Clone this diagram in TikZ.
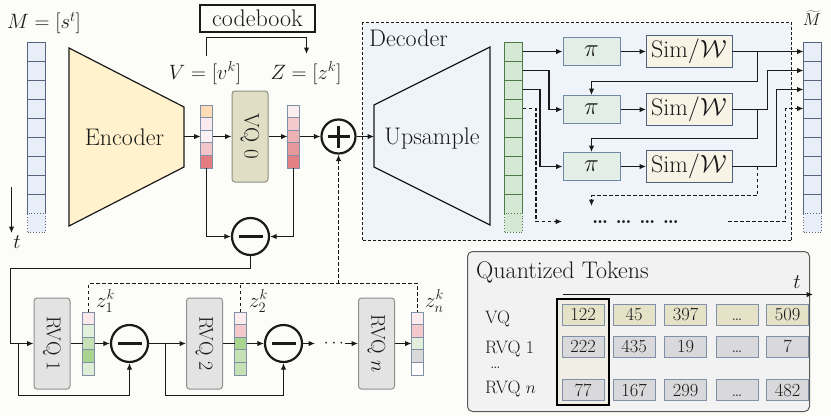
\documentclass[tikz,border=0pt]{standalone}
\usepackage{graphicx}
\usetikzlibrary{arrows.meta,calc}
\definecolor{bgc}{HTML}{FCFCF8}
\definecolor{txt}{HTML}{1A1A1A}
\definecolor{lc}{HTML}{1A1A1A}
\definecolor{mfill}{HTML}{E8EEF8}
\definecolor{mbord}{HTML}{56647E}
\definecolor{gfill}{HTML}{D5E8D4}
\definecolor{gbord}{HTML}{4E7A45}
\definecolor{vbord}{HTML}{8090A8}
\definecolor{encf}{HTML}{FFF2CC}
\definecolor{vqf}{HTML}{E0DFC6}
\definecolor{vqb}{HTML}{8F8F80}
\definecolor{rvqf}{HTML}{E3E3E3}
\definecolor{rvqb}{HTML}{8F8F8F}
\definecolor{decf}{HTML}{EFF4FA}
\definecolor{pif}{HTML}{E3EFE6}
\definecolor{pib}{HTML}{6E88A4}
\definecolor{simf}{HTML}{F7F4E6}
\definecolor{simb}{HTML}{4F6180}
\definecolor{panf}{HTML}{F2F2F2}
\definecolor{panb}{HTML}{595959}
\definecolor{hlf}{HTML}{F1EEE6}
\definecolor{tokvq}{HTML}{E5E2C8}
\definecolor{tokr}{HTML}{D9D9DB}
\definecolor{tokb}{HTML}{8090A8}
\begin{document}
\begin{tikzpicture}[x=1pt,y=-1pt,
  every node/.style={text=txt},
  conn/.style={line width=1.1pt, draw=lc},
  tip/.style={-{Latex[length=6.5pt,width=5.5pt]}},
  arr/.style={conn, tip},
  dl/.style={conn, dash pattern=on 3.5pt off 2.5pt},
  dla/.style={dl, tip},
  bigtext/.style={font=\fontsize{24}{28}\selectfont, inner sep=0pt},
  mathlab/.style={font=\fontsize{20}{24}\selectfont, inner sep=0pt},
  zlabel/.style={font=\fontsize{21}{24}\selectfont, inner sep=0pt},
  mcell/.style={draw=mbord, fill=mfill, line width=0.8pt, minimum width=18pt, minimum height=19pt, inner sep=0pt, outer sep=0pt},
  gcell/.style={mcell, draw=gbord, fill=gfill},
  vcell/.style={draw=vbord, line width=0.8pt, minimum width=12pt, minimum height=12.6pt, inner sep=0pt, outer sep=0pt},
  opcirc/.style={circle, draw=lc, line width=2.2pt, fill=bgc, inner sep=0pt},
  qbox/.style={rounded corners=3pt, line width=1pt, inner sep=0pt, minimum width=36pt, minimum height=91pt},
  pibox/.style={draw=pib, fill=pif, line width=1pt, minimum width=57pt, minimum height=28pt, inner sep=0pt, font=\fontsize{25}{28}\selectfont},
  simbox/.style={draw=simb, fill=simf, line width=1pt, minimum width=86pt, minimum height=32pt, inner sep=0pt, outer sep=0pt, font=\fontsize{24}{28}\selectfont},
  tok/.style={draw=tokb, line width=0.9pt, minimum width=42pt, minimum height=21pt, inner sep=0pt, text height=12pt, text depth=0pt, font=\fontsize{18.5}{21}\selectfont},
  rowlab/.style={font=\fontsize{18}{21}\selectfont, inner sep=0pt, anchor=base west},
]
\fill[bgc] (0,0) rectangle (831,416);
\useasboundingbox (0,0) rectangle (831,416);

% ---------- input column M
\node[mathlab] (mlab) at (44,23) {$M=[s^t]$};
\foreach \i in {1,...,9} \node[mcell] (m\i) at (36.5,{42+19*(\i-0.5)}) {};
\node[mcell, dotted] (m10) at (36.5,{42+19*9.5}) {};
\coordinate (ta) at (11.5,187);
\coordinate (tb) at (11.5,233);
\draw[arr] (ta) -- (tb);
\node[mathlab] (tl) at (17,242) {$t$};

% ---------- encoder
\draw[fill=encf, line width=1.2pt, draw=lc] (69,48) -- (184,107) -- (184,167) -- (69,226) -- cycle;
\node[bigtext] (enc) at (124.5,137) {Encoder};
\coordinate (encout) at (184,136.5);

% ---------- V and Z vectors
\foreach \c [count=\i] in {FDDCB6,FBEBEE,FCF1F2,F2C5C8,E47C80}
  {\definecolor{tmpc}{HTML}{\c}\node[vcell, fill=tmpc] (v\i) at (206.5,{105+12.6*(\i-0.5)}) {};}
\foreach \c [count=\i] in {FCEDEE,F4CACD,EDB0B3,E6989B,E38084}
  {\definecolor{tmpc}{HTML}{\c}\node[vcell, fill=tmpc] (z\i) at (293.5,{105+12.6*(\i-0.5)}) {};}
\node[mathlab] (vlab) at (205,73) {$V=[v^k]$};
\node[mathlab] (zlab) at (306,73) {$Z=[z^k]$};
\node[qbox, draw=vqb, fill=vqf] (vq) at (250,136.5) {\rotatebox{-90}{\fontsize{21}{24}\selectfont VQ 0}};

% codebook
\node[bigtext, draw=lc, line width=1.3pt, minimum width=115pt, minimum height=27pt, fill=bgc] (cb) at (257.5,18.5) {codebook};
\coordinate (vtop) at (206.5,56);
\coordinate (ztop) at (306.5,54);
\draw[arr] (vtop) -- (206.5,37.5) -| (ztop);

% plus and first minus
\node[opcirc, minimum size=34pt] (plus) at (338.5,136.5) {};
\draw[line width=2.2pt, draw=lc] (plus.center) ++(-11,0) -- ++(22,0);
\draw[line width=2.2pt, draw=lc] (plus.center) ++(0,-11) -- ++(0,22);
\node[opcirc, minimum size=37pt] (mi0) at (250.5,236.5) {};
\draw[line width=2.6pt, draw=lc] (mi0.center) ++(-12,0) -- ++(24,0);

\draw[arr] (encout) -- (v3.west);
\draw[arr] (v3.east) -- (vq.west);
\draw[arr] (vq.east) -- (z3.west);
\draw[arr] (z3.east) -- (plus.west);
\draw[arr] (v5.south) |- (mi0.west);
\draw[arr] (z5.south) |- (mi0.east);

% ---------- residual stages
\node[qbox, draw=rvqb, fill=rvqf] (rvq1) at (52,343.5) {\rotatebox{-90}{\fontsize{20}{24}\selectfont RVQ 1}};
\node[qbox, draw=rvqb, fill=rvqf] (rvq2) at (204.5,343.5) {\rotatebox{-90}{\fontsize{20}{24}\selectfont RVQ 2}};
\node[qbox, draw=rvqb, fill=rvqf] (rvqn) at (376.5,343.5) {\rotatebox{-90}{\fontsize{20}{24}\selectfont RVQ $n$}};
\foreach \c [count=\i] in {FBE9EA,E2EFDA,C6E2B4,A8D48F,DEEDD5}
  {\definecolor{tmpc}{HTML}{\c}\node[vcell, fill=tmpc] (za\i) at (88.5,{312+12.6*(\i-0.5)}) {};}
\foreach \c [count=\i] in {FCECED,F4C9CB,A8D48F,C6E2B4,C6E2B4}
  {\definecolor{tmpc}{HTML}{\c}\node[vcell, fill=tmpc] (zb\i) at (240.5,{312+12.6*(\i-0.5)}) {};}
\foreach \c [count=\i] in {FCECED,F4C9CB,E2EFDA,D9D9D9,FFFFFF}
  {\definecolor{tmpc}{HTML}{\c}\node[vcell, fill=tmpc] (zn\i) at (417.5,{312+12.6*(\i-0.5)}) {};}
\node[zlabel, anchor=west] (zla) at (96,301) {$z_1^k$};
\node[zlabel, anchor=west] (zlb) at (249,301) {$z_2^k$};
\node[zlabel, anchor=west] (zlc) at (425,301) {$z_n^k$};
\node[opcirc, minimum size=37pt] (mi1) at (129.5,343.5) {};
\draw[line width=2.6pt, draw=lc] (mi1.center) ++(-12,0) -- ++(24,0);
\node[opcirc, minimum size=37pt] (mi2) at (283.5,343.5) {};
\draw[line width=2.6pt, draw=lc] (mi2.center) ++(-12,0) -- ++(24,0);
\node[font=\fontsize{17}{20}\selectfont, inner sep=1pt] (sdots) at (334,343.5) {$\cdots$};
\coordinate (d2) at (315,343.5);

\draw[arr] (mi0.south) |- (10.5,268.5) |- (rvq1.west);
\draw[arr] (18.5,343.5) -- (18.5,395.5) -| (mi1.south);
\draw[conn] (rvq1.east) -- (za3.west);
\draw[arr] (za3.east) -- (mi1.west);
\draw[arr] (mi1.east) -- (rvq2.west);
\draw[arr] (165.5,343.5) -- (165.5,395.5) -| (mi2.south);
\draw[conn] (rvq2.east) -- (zb3.west);
\draw[arr] (zb3.east) -- (mi2.west);
\draw[arr] (mi2.east) -- (d2);
\draw[arr] (sdots.east) -- (rvqn.west);
\draw[arr] (rvqn.east) -- (zn3.west);

\draw[dl] (za1.north) -- ++(0,-28.5) -| (zn1.north);
\draw[dl] (zb1.north) -- ++(0,-28.5);
\coordinate (dj) at (338.5,283.5);
\draw[dla] (dj) -- (plus.south);

% ---------- decoder
\node[draw=lc, line width=1pt, dash pattern=on 3pt off 2pt, fill=decf, minimum width=429pt, minimum height=218pt, anchor=north west, inner sep=0pt, outer sep=0pt] (dec) at (362.5,22.5) {};
\node[bigtext, anchor=west] (declab) at (369,38) {Decoder};
\draw[fill=decf, line width=1.2pt, draw=lc] (374,105) -- (490,47) -- (490,225) -- (374,167) -- cycle;
\node[bigtext] (ups) at (432,139) {Upsample};
\coordinate (upin) at (374,136.5);
\draw[arr] (plus.east) -- (upin);

\foreach \i in {1,...,9} \node[gcell] (g\i) at (513.5,{42+19*(\i-0.5)}) {};
\node[gcell, dotted] (g10) at (513.5,{42+19*9.5}) {};
\foreach \i in {1,...,9} \node[mcell] (o\i) at (812.5,{42+19*(\i-0.5)}) {};
\node[mcell, dotted] (o10) at (812.5,{42+19*9.5}) {};
\node[font=\fontsize{19}{22}\selectfont, inner sep=0pt] (mtl) at (812,18) {$\widetilde{M}$};

\node[pibox] (p1) at (591.5,51.5) {$\pi$};
\node[pibox] (p2) at (591.5,109.5) {$\pi$};
\node[pibox] (p3) at (591.5,166.5) {$\pi$};
\node[simbox] (s1) at (689,51.5) {Sim$/\mathcal{W}$};
\node[simbox] (s2) at (689,109.5) {Sim$/\mathcal{W}$};
\node[simbox] (s3) at (689,166.5) {Sim$/\mathcal{W}$};
\node[font=\bfseries\fontsize{20}{24}\selectfont, inner sep=0pt, anchor=base] (ddots) at (635.5,223) {\ldots\ \ldots\ \ldots\ \ldots};
\coordinate (dl1) at (562,221.5);
\coordinate (pd) at (591.5,206);
\coordinate (dr0) at (728,221.5);

\draw[arr] (g1.east) -- (p1.west);
\draw[arr] (p1.east) -- (s1.west);
\draw[arr] (s1.east) -- (o1.west);
\draw[arr] ([xshift=25.5pt]s1.east) -- ++(0,30) -| (p2.north);
\draw[arr] (g2.east) -- ++(26.5,0) |- (p2.west);
\draw[arr] (p2.east) -- (s2.west);
\draw[arr] (s2.east) -- ++(35.5,0) |- (o2.west);
\draw[arr] ([xshift=25.5pt]s2.east) -- ++(0,29) -| (p3.north);
\draw[arr] (g3.east) -- ++(17.5,0) |- (p3.west);
\draw[arr] (p3.east) -- (s3.west);
\draw[arr] (s3.east) -- ++(44.5,0) |- (o3.west);
\draw[dla] ([xshift=25.5pt]s3.east) -- ++(0,29) -| (pd);
\draw[dla] (g4.east) -- ++(13.5,0) |- (dl1);
\draw[dla] (dr0) -- ++(57.5,0) |- (o4.west);

% ---------- quantized tokens panel
\node[draw=panb, fill=panf, line width=1pt, rounded corners=5pt, minimum width=342pt, minimum height=160pt, anchor=north west, inner sep=0pt, outer sep=0pt] (pan) at (467.5,251.5) {};
\node[bigtext, anchor=west] (pantitle) at (476,272) {Quantized Tokens};
\coordinate (ts) at (563,294.5);
\coordinate (te) at (813,294.5);
\draw[arr] (ts) -- (te);
\node[font=\fontsize{20}{24}\selectfont, inner sep=0pt] (tt) at (797,282) {$t$};
\node[draw=black, line width=2pt, fill=hlf, minimum width=52pt, minimum height=106pt, inner sep=0pt] (hl) at (582.5,352) {};
\node[rowlab] (r1) at (485,323) {VQ};
\node[rowlab] (r2) at (485,353) {RVQ 1};
\node[rowlab] (r3) at (490,368) {\ldots};
\node[rowlab] (r4) at (485,393) {RVQ $n$};
\foreach \x/\a/\b/\c [count=\j] in {583/122/222/77, 634/45/435/167, 685.5/397/19/299, 737/\ldots/\ldots/\ldots, 787.5/509/7/482} {
  \node[tok, fill=tokvq] (ta\j) at (\x,314.5) {\a};
  \node[tok, fill=tokr] (tb\j) at (\x,346.5) {\b};
  \node[tok, fill=tokr] (tc\j) at (\x,390) {\c};
}
\end{tikzpicture}
\end{document}
